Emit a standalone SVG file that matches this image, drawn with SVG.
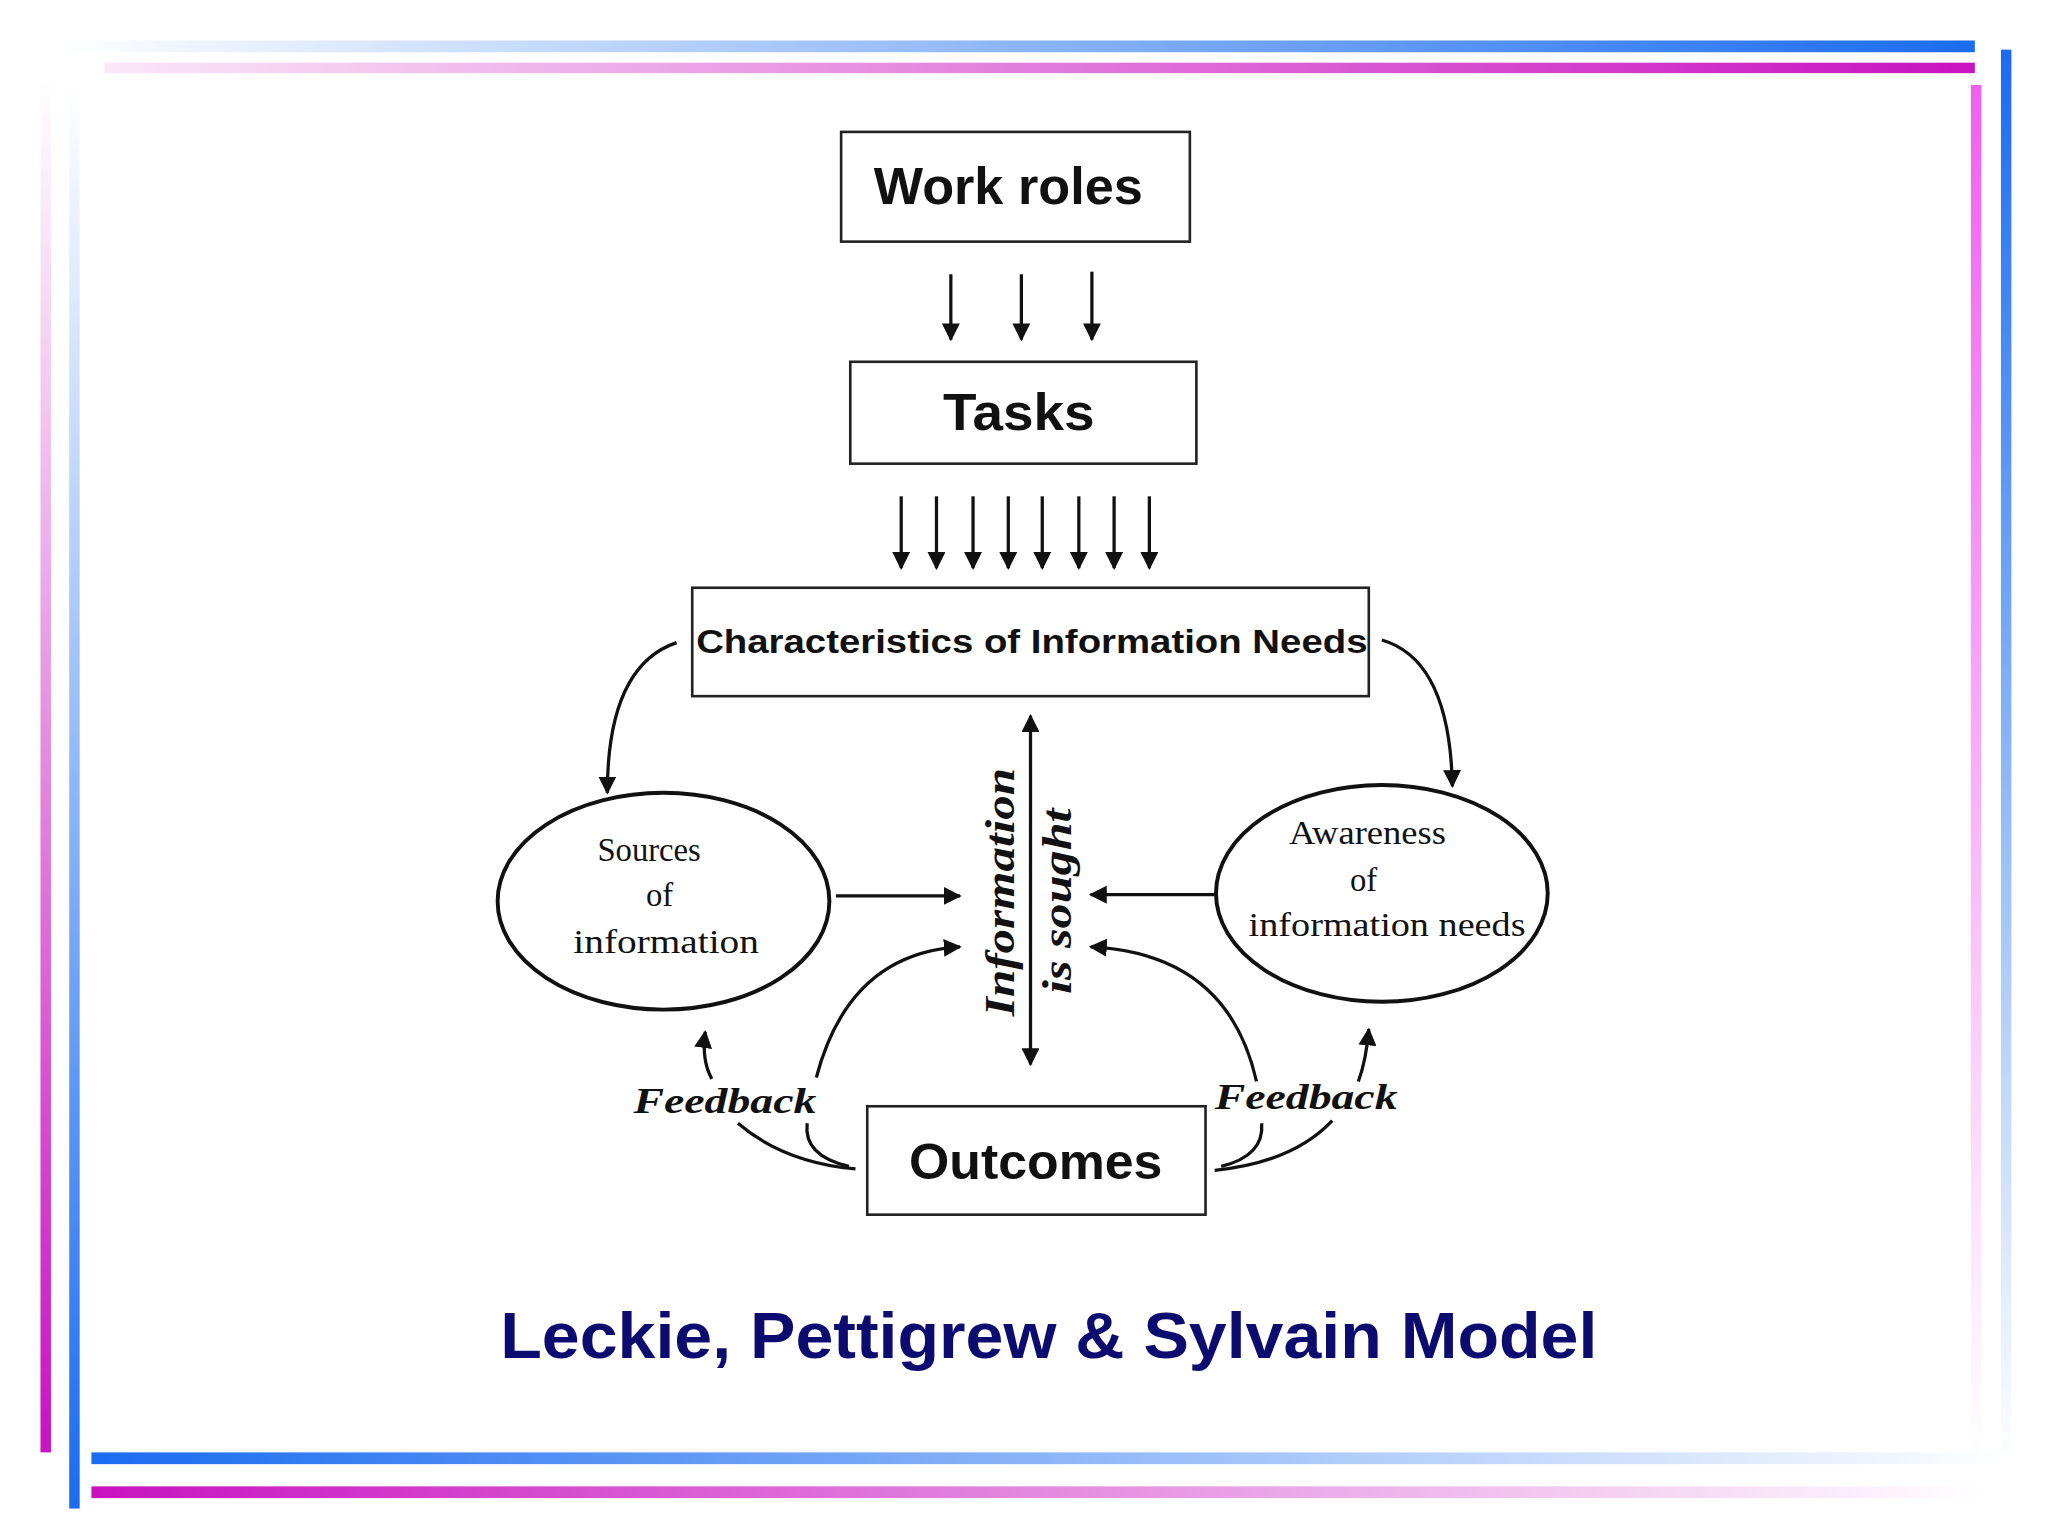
<svg xmlns="http://www.w3.org/2000/svg" width="2048" height="1536" viewBox="0 0 2048 1536">
<defs>
<linearGradient id="bR" x1="0" y1="0" x2="1" y2="0"><stop offset="0" stop-color="#fff"/><stop offset="1" stop-color="#1a6cf0"/></linearGradient>
<linearGradient id="mR" x1="0" y1="0" x2="1" y2="0"><stop offset="0" stop-color="#fbe6f8"/><stop offset="1" stop-color="#c812c0"/></linearGradient>
<linearGradient id="bL" x1="0" y1="0" x2="1" y2="0"><stop offset="0" stop-color="#1a6cf0"/><stop offset="1" stop-color="#fff"/></linearGradient>
<linearGradient id="mL" x1="0" y1="0" x2="1" y2="0"><stop offset="0" stop-color="#c812c0"/><stop offset="1" stop-color="#fff"/></linearGradient>
<linearGradient id="bD" x1="0" y1="0" x2="0" y2="1"><stop offset="0" stop-color="#1a6cf0"/><stop offset="1" stop-color="#fff"/></linearGradient>
<linearGradient id="mD" x1="0" y1="0" x2="0" y2="1"><stop offset="0" stop-color="#f060f0"/><stop offset="1" stop-color="#fff"/></linearGradient>
<linearGradient id="bU" x1="0" y1="0" x2="0" y2="1"><stop offset="0" stop-color="#fff"/><stop offset="1" stop-color="#1a6cf0"/></linearGradient>
<linearGradient id="mU" x1="0" y1="0" x2="0" y2="1"><stop offset="0" stop-color="#fff"/><stop offset="1" stop-color="#c812c0"/></linearGradient>
<marker id="ah" viewBox="0 0 10 10" refX="9" refY="5" markerWidth="5.5" markerHeight="5.5" orient="auto-start-reverse"><path d="M0,0 L10,5 L0,10 z" fill="#111"/></marker>
<style>
.box{fill:#fff;stroke:#222;stroke-width:2}
.ell{fill:#fff;stroke:#111;stroke-width:3}
.c{fill:none;stroke:#111;stroke-width:2.5;marker-end:url(#ah)}
.cn{fill:none;stroke:#111;stroke-width:2.5}
.sans{font-family:"Liberation Sans",Arial,sans-serif;fill:#111;text-anchor:middle}
.ser{font-family:"Liberation Serif","Times New Roman",serif;fill:#111;text-anchor:middle}
</style>
</defs>
<rect width="2048" height="1536" fill="#fff"/>
<g transform="scale(1.3061)">
<g id="frame">
<rect x="40" y="31" width="1472" height="9" fill="url(#bR)"/>
<rect x="80" y="48" width="1432" height="8" fill="url(#mR)"/>
<rect x="1509" y="65" width="8" height="1050" fill="url(#mD)"/>
<rect x="1532" y="38" width="8" height="1085" fill="url(#bD)"/>
<rect x="31" y="60" width="8" height="1052" fill="url(#mU)"/>
<rect x="53" y="65" width="8" height="1090" fill="url(#bU)"/>
<rect x="70" y="1112" width="1470" height="9" fill="url(#bL)"/>
<rect x="70" y="1138" width="1450" height="9" fill="url(#mL)"/>
</g>
<g id="work-roles"><rect class="box" x="644" y="101" width="267" height="84"/><text class="sans" x="772" y="156" font-size="40" font-weight="bold" textLength="206" lengthAdjust="spacingAndGlyphs">Work roles</text></g>
<g id="tasks"><rect class="box" x="651" y="277" width="265" height="78"/><text class="sans" x="780" y="329" font-size="40" font-weight="bold" textLength="116" lengthAdjust="spacingAndGlyphs">Tasks</text></g>
<g id="characteristics"><rect class="box" x="530" y="450" width="518" height="83"/><text class="sans" x="790" y="500" font-size="26" font-weight="bold" textLength="514" lengthAdjust="spacingAndGlyphs">Characteristics of Information Needs</text></g>
<g id="sources"><ellipse class="ell" cx="508" cy="690" rx="127" ry="83"/>
<text class="ser" font-size="25"><tspan x="497" y="659">Sources</tspan><tspan x="505" y="694">of</tspan><tspan x="510" y="730" textLength="142" lengthAdjust="spacingAndGlyphs">information</tspan></text></g>
<g id="awareness"><ellipse class="ell" cx="1058" cy="684" rx="127" ry="83"/>
<text class="ser" font-size="25"><tspan x="1047" y="646" textLength="120" lengthAdjust="spacingAndGlyphs">Awareness</tspan><tspan x="1044" y="682">of</tspan><tspan x="1062" y="717" textLength="212" lengthAdjust="spacingAndGlyphs">information needs</tspan></text></g>
<g id="outcomes"><rect class="box" x="664" y="847" width="259" height="83"/><text class="sans" x="793" y="903" font-size="38" font-weight="bold" textLength="194" lengthAdjust="spacingAndGlyphs">Outcomes</text></g>
<g id="labels">
<text class="ser" font-size="33" font-weight="bold" font-style="italic" transform="translate(776,683) rotate(-90)" textLength="190" lengthAdjust="spacingAndGlyphs">Information</text>
<text class="ser" font-size="33" font-weight="bold" font-style="italic" transform="translate(820,690) rotate(-90)" textLength="142" lengthAdjust="spacingAndGlyphs">is sought</text>
<text class="ser" font-size="28" font-weight="bold" font-style="italic" x="555" y="852" textLength="140" lengthAdjust="spacingAndGlyphs">Feedback</text>
<text class="ser" font-size="28" font-weight="bold" font-style="italic" x="1000" y="849" textLength="140" lengthAdjust="spacingAndGlyphs">Feedback</text>
<text x="803" y="1040" font-family="'Liberation Sans',Arial,sans-serif" font-size="50" font-weight="bold" fill="#0c0c70" text-anchor="middle" textLength="840" lengthAdjust="spacingAndGlyphs">Leckie, Pettigrew &amp; Sylvain Model</text>
</g>
<g id="connectors">
<path class="c" d="M728,210 V260"/><path class="c" d="M782,210 V260"/><path class="c" d="M836,208 V260"/>
<path class="c" d="M690,380 V435"/><path class="c" d="M717,380 V435"/><path class="c" d="M745,380 V435"/><path class="c" d="M772,380 V435"/><path class="c" d="M798,380 V435"/><path class="c" d="M826,380 V435"/><path class="c" d="M853,380 V435"/><path class="c" d="M880,380 V435"/>
<path class="c" d="M789,548 V815" style="marker-start:url(#ah)"/>
<path class="c" d="M518,492 Q465,510 465,607"/>
<path class="c" d="M1058,490 Q1110,505 1112,602"/>
<path class="c" d="M640,686 H735"/>
<path class="c" d="M930,685 H835"/>
<path class="c" d="M625,825 Q650,730 735,725"/>
<path class="c" d="M962,828 Q940,730 835,725"/>
<path class="cn" d="M655,895 Q600,890 565,860"/>
<path class="cn" d="M650,893 Q615,885 618,860"/>
<path class="c" d="M545,826 Q537,812 540,790"/>
<path class="cn" d="M930,896 Q990,890 1020,858"/>
<path class="cn" d="M935,893 Q968,885 966,860"/>
<path class="c" d="M1040,828 Q1046,812 1048,788"/>
</g>
</g>
</svg>
